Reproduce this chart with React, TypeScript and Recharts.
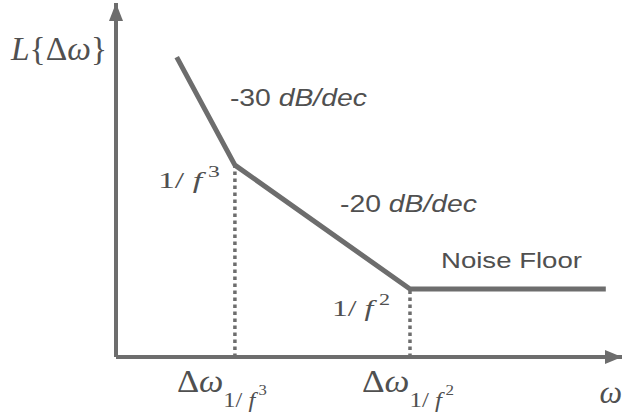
import React from 'react';
import { ComposedChart, Line, XAxis, YAxis, ReferenceLine, ReferenceDot } from 'recharts';

// Log offset frequency (arbitrary decades scale) of each breakpoint
const offsetFreq = [12, 23.5, 58.1, 96.8];
// Phase noise level L{Δω} at each breakpoint (arbitrary dB scale)
const noiseLevel = [84.7, 54.2, 19.2, 19.2];
// Corner frequencies and the exponent of their 1/f^n regions
const cornerFreq = [23.5, 58.1];
const cornerLevel = [54.2, 19.2];
const cornerExp = ['3', '2'];
// Slope annotations
const slopeValues = ['-30', '-20'];
const slopeUnit = 'dB/dec';
const floorLabel = 'Noise Floor';

const data = offsetFreq.map((f, i) => ({ f, L: noiseLevel[i] }));

const INK = '#6d6d6d';
const TEXT = '#505050';
const SERIF = '"Liberation Serif", "DejaVu Serif", serif';
const SANS = '"Liberation Sans", Arial, sans-serif';

const ArrowUp = ({ cx, cy }: any) => (
  <polygon points={`${cx},${cy} ${cx - 7},${cy + 18} ${cx + 7},${cy + 18}`} fill={INK} />
);
const ArrowRight = ({ cx, cy }: any) => (
  <polygon points={`${cx},${cy} ${cx - 17},${cy - 7} ${cx - 17},${cy + 7}`} fill={INK} />
);

const tickShift = [-58, -48];
const tickWidth = [90, 92];

const CornerTick = ({ x, y, index }: any) => (
  <text
    x={x + tickShift[index]}
    y={y + 27}
    fontFamily={SERIF}
    fill={TEXT}
    textLength={tickWidth[index]}
    lengthAdjust="spacingAndGlyphs"
  >
    <tspan fontSize={31}>Δ</tspan>
    <tspan fontSize={31} fontStyle="italic">ω</tspan>
    <tspan fontSize={22} dy={15}>1/ </tspan>
    <tspan fontSize={22} fontStyle="italic">f</tspan>
    <tspan fontSize={15} dx={3} dy={-12}>{cornerExp[index]}</tspan>
  </text>
);

const cornerLabel = (exp: string, dx: number, dy: number, w: number) => ({ cx, cy }: any) => (
  <text
    x={cx + dx}
    y={cy + dy}
    fontFamily={SERIF}
    fill={TEXT}
    textLength={w}
    lengthAdjust="spacingAndGlyphs"
  >
    <tspan fontSize={23}>1/ </tspan>
    <tspan fontSize={23} fontStyle="italic">f</tspan>
    <tspan fontSize={16} dx={4} dy={-11}>{exp}</tspan>
  </text>
);

const slopeLabel = (value: string, dx: number, dy: number) => ({ cx, cy }: any) => (
  <text
    x={cx + dx}
    y={cy + dy}
    fontFamily={SANS}
    fontSize={23}
    fill={TEXT}
    textLength={137}
    lengthAdjust="spacingAndGlyphs"
  >
    <tspan>{value} </tspan>
    <tspan fontStyle="italic">{slopeUnit}</tspan>
  </text>
);

const floorText = ({ cx, cy }: any) => (
  <text
    x={cx + 31}
    y={cy - 21}
    fontFamily={SANS}
    fontSize={22}
    fill={TEXT}
    textLength={141}
    lengthAdjust="spacingAndGlyphs"
  >
    {floorLabel}
  </text>
);

const yTitle = ({ cx, cy }: any) => (
  <text
    x={cx - 105}
    y={cy + 57}
    fontFamily={SERIF}
    fontSize={33}
    fill={TEXT}
    textLength={96}
    lengthAdjust="spacingAndGlyphs"
  >
    <tspan fontStyle="italic">L</tspan>
    <tspan>{'{Δ'}</tspan>
    <tspan fontStyle="italic">ω</tspan>
    <tspan>{'}'}</tspan>
  </text>
);

const xTitle = ({ cx, cy }: any) => (
  <text x={cx} y={cy + 46} textAnchor="end" fontFamily={SERIF} fontSize={32} fontStyle="italic" fill={TEXT}>
    ω
  </text>
);

export default function App() {
  return (
    <div style={{ position: 'absolute', left: 0, top: 0, background: '#fff' }}>
      <ComposedChart
        width={625}
        height={419}
        data={data}
        margin={{ top: 3, right: 3, bottom: 0, left: 0 }}
      >
        <XAxis
          type="number"
          dataKey="f"
          domain={[0, 100]}
          ticks={cornerFreq}
          tick={<CornerTick />}
          tickLine={false}
          height={62}
          axisLine={{ stroke: INK, strokeWidth: 4 }}
        />
        <YAxis
          type="number"
          domain={[0, 100]}
          tick={false}
          tickLine={false}
          width={116}
          axisLine={{ stroke: INK, strokeWidth: 4 }}
        />
        {cornerFreq.map((f, i) => (
          <ReferenceLine
            key={`d${i}`}
            segment={[{ x: f, y: 0 }, { x: f, y: cornerLevel[i] }]}
            stroke={INK}
            strokeWidth={3.5}
            strokeDasharray="3.5 3.5"
          />
        ))}
        <Line
          type="linear"
          dataKey="L"
          stroke={INK}
          strokeWidth={5}
          strokeLinejoin="round"
          dot={false}
          activeDot={false}
          isAnimationActive={false}
        />
        <ReferenceDot x={0} y={100} r={0} ifOverflow="visible" shape={ArrowUp} />
        <ReferenceDot x={100} y={0} r={0} ifOverflow="visible" shape={ArrowRight} />
        <ReferenceDot x={0} y={100} r={0} ifOverflow="visible" shape={yTitle} />
        <ReferenceDot x={100} y={0} r={0} ifOverflow="visible" shape={xTitle} />
        <ReferenceDot
          x={cornerFreq[0]}
          y={cornerLevel[0]}
          r={0}
          ifOverflow="visible"
          shape={cornerLabel(cornerExp[0], -77, 23, 62)}
        />
        <ReferenceDot
          x={cornerFreq[1]}
          y={cornerLevel[1]}
          r={0}
          ifOverflow="visible"
          shape={cornerLabel(cornerExp[1], -78, 27, 58)}
        />
        <ReferenceDot
          x={cornerFreq[0]}
          y={cornerLevel[0]}
          r={0}
          ifOverflow="visible"
          shape={slopeLabel(slopeValues[0], -5, -59)}
        />
        <ReferenceDot
          x={cornerFreq[1]}
          y={cornerLevel[1]}
          r={0}
          ifOverflow="visible"
          shape={slopeLabel(slopeValues[1], -70, -77)}
        />
        <ReferenceDot
          x={cornerFreq[1]}
          y={cornerLevel[1]}
          r={0}
          ifOverflow="visible"
          shape={floorText}
        />
      </ComposedChart>
    </div>
  );
}
